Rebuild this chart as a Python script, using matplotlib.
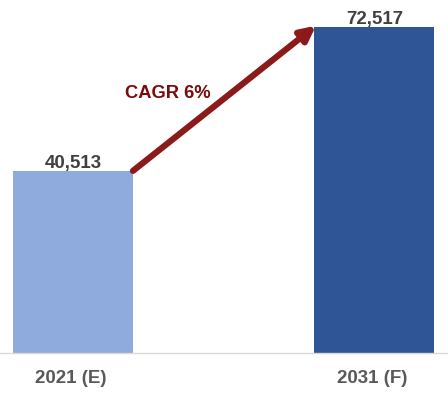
import matplotlib.pyplot as plt

years = ["2021 (E)", "2031 (F)"]
values = [40513, 72517]
value_labels = ["40,513", "72,517"]
bar_colors = ["#8FAADC", "#2F5597"]
cagr_text = "CAGR 6%"

plt.rcParams['font.family'] = ['Liberation Sans', 'DejaVu Sans']

fig = plt.figure(figsize=(4.48, 3.97), dpi=100)
ax = fig.add_axes([0, 44 / 397, 1, 353 / 397])

x = [0, 1]
w = 0.398
ax.bar(x, values, width=w, color=bar_colors, zorder=2)
ax.set_xlim(-0.242, 1.244)
ax.set_ylim(0, 72517 * 353 / 326)

for xi, v, lab in zip(x, values, value_labels):
    ax.text(xi, v - 300, lab, ha='center', va='bottom', fontsize=13.5,
            fontweight='bold', color='#404040')

ax.annotate("", xy=(1 - w / 2 + 0.005, values[1] + 300), xytext=(w / 2, values[0]),
            arrowprops=dict(arrowstyle='-|>', color='#8B1A1A', lw=4.5,
                            mutation_scale=22, shrinkA=0, shrinkB=0))
ax.text(0.315, 57800, cagr_text, ha='center', va='center', fontsize=13.2,
        fontweight='bold', color='#7B0A0A')

for s in ['top', 'right', 'left']:
    ax.spines[s].set_visible(False)
ax.spines['bottom'].set_color('#D9D9D9')
ax.spines['bottom'].set_linewidth(1)
ax.set_yticks([])
ax.set_xticks([-0.007, 0.993])
ax.set_xticklabels(years, fontsize=13.5, fontweight='bold', color='#595959')
ax.tick_params(axis='x', length=0, pad=12)

fig.savefig("out.png", dpi=100)
